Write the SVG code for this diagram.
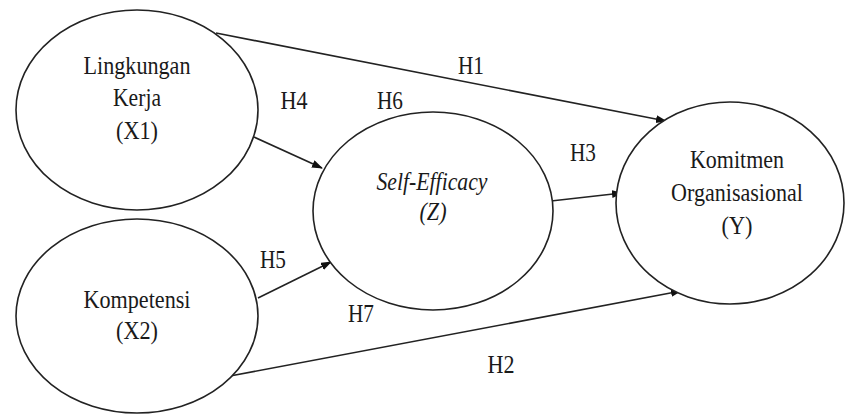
<svg xmlns="http://www.w3.org/2000/svg" width="846" height="415" viewBox="0 0 846 415">
<defs>
<marker id="arr" markerWidth="11" markerHeight="9" refX="10" refY="4" orient="auto" markerUnits="userSpaceOnUse">
<path d="M0,0 L11,4 L0,8 z" fill="#111"/>
</marker>
<style>
.node{fill:#fff;stroke:#222;stroke-width:1.6}
.t{font-family:"Liberation Serif","Times New Roman",serif;font-size:25px;fill:#1a1a1a;text-anchor:middle}
.i{font-style:italic}
.edge{stroke:#222;stroke-width:1.6;fill:none;marker-end:url(#arr)}
</style>
</defs>
<rect width="846" height="415" fill="#fff"/>
<g id="connectors">
<line class="edge" x1="216" y1="33" x2="666" y2="121"/>
<line class="edge" x1="254" y1="137" x2="322" y2="168"/>
<line class="edge" x1="258" y1="298" x2="331" y2="262"/>
<line class="edge" x1="551" y1="201" x2="622" y2="193"/>
<line class="edge" x1="230" y1="376" x2="681" y2="291"/>
</g>
<g id="node-x1">
<ellipse class="node" cx="137" cy="110" rx="121" ry="100"/>
<text class="t" x="137" y="74" textLength="107" lengthAdjust="spacingAndGlyphs">Lingkungan</text>
<text class="t" x="137" y="106" textLength="48" lengthAdjust="spacingAndGlyphs">Kerja</text>
<text class="t" x="137" y="139" textLength="42" lengthAdjust="spacingAndGlyphs">(X1)</text>
</g>
<g id="node-x2">
<ellipse class="node" cx="137" cy="316" rx="121" ry="97"/>
<text class="t" x="137" y="308" textLength="107" lengthAdjust="spacingAndGlyphs">Kompetensi</text>
<text class="t" x="137" y="339" textLength="42" lengthAdjust="spacingAndGlyphs">(X2)</text>
</g>
<g id="node-z">
<ellipse class="node" cx="433" cy="211" rx="120" ry="99"/>
<text class="t i" x="432" y="190" textLength="111" lengthAdjust="spacingAndGlyphs">Self-Efficacy</text>
<text class="t i" x="433" y="220" textLength="27" lengthAdjust="spacingAndGlyphs">(Z)</text>
</g>
<g id="node-y">
<ellipse class="node" cx="730" cy="203" rx="114" ry="101"/>
<text class="t" x="737" y="168" textLength="94" lengthAdjust="spacingAndGlyphs">Komitmen</text>
<text class="t" x="737" y="201" textLength="132" lengthAdjust="spacingAndGlyphs">Organisasional</text>
<text class="t" x="737" y="234" textLength="31" lengthAdjust="spacingAndGlyphs">(Y)</text>
</g>
<g id="labels">
<text class="t" x="471" y="74" textLength="26" lengthAdjust="spacingAndGlyphs">H1</text>
<text class="t" x="294" y="109" textLength="27" lengthAdjust="spacingAndGlyphs">H4</text>
<text class="t" x="390" y="109" textLength="26" lengthAdjust="spacingAndGlyphs">H6</text>
<text class="t" x="583" y="161" textLength="26" lengthAdjust="spacingAndGlyphs">H3</text>
<text class="t" x="273" y="268" textLength="26" lengthAdjust="spacingAndGlyphs">H5</text>
<text class="t" x="361" y="322" textLength="26" lengthAdjust="spacingAndGlyphs">H7</text>
<text class="t" x="501" y="373" textLength="27" lengthAdjust="spacingAndGlyphs">H2</text>
</g>
</svg>
